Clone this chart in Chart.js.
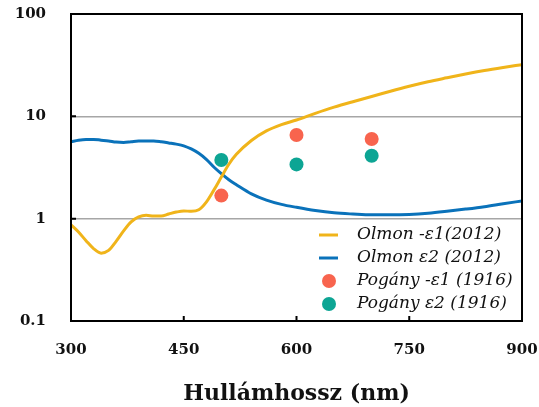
<!DOCTYPE html>
<html>
<head>
<meta charset="utf-8">
<script src="https://cdn.jsdelivr.net/npm/chart.js@4/dist/chart.umd.min.js"></script>
<style>
  html, body { margin: 0; padding: 0; background: #ffffff; }
  #wrap { width: 539px; height: 407px; }
</style>
</head>
<body>
<div id="wrap"><canvas id="c" width="539" height="407"></canvas></div>
<script>
// Wavelength grid (nm) shared by the two Olmon curves
const wavelengthNm = [300, 310, 320, 330, 340, 350, 360, 370, 380, 390, 400, 410, 420, 430, 440, 450,
  460, 470, 480, 490, 500, 510, 520, 540, 560, 580, 600, 625, 650, 675, 700, 725, 750, 775, 800,
  825, 850, 875, 900];

// Olmon (2012): -eps1
const olmonNegEps1 = [0.87, 0.74, 0.61, 0.51, 0.46, 0.49, 0.60, 0.76, 0.93, 1.04, 1.08, 1.06, 1.06,
  1.11, 1.16, 1.19, 1.18, 1.22, 1.45, 1.9, 2.55, 3.4, 4.25, 5.8, 7.2, 8.3, 9.2, 10.7, 12.3, 13.9,
  15.6, 17.6, 19.7, 21.8, 23.8, 25.9, 28.0, 30.0, 32.0];

// Olmon (2012): eps2
const olmonEps2 = [5.65, 5.85, 5.95, 5.95, 5.85, 5.75, 5.6, 5.55, 5.65, 5.75, 5.75, 5.75, 5.65, 5.5,
  5.35, 5.15, 4.8, 4.35, 3.8, 3.2, 2.75, 2.4, 2.15, 1.75, 1.52, 1.38, 1.29, 1.2, 1.14, 1.11, 1.09,
  1.09, 1.1, 1.13, 1.18, 1.24, 1.31, 1.4, 1.49];

// Pogány (1916) measurements
const poganyWavelengthNm = [500, 600, 700];
const poganyNegEps1 = [1.68, 6.56, 6.0];
const poganyEps2 = [3.74, 3.39, 4.12];

// Axis ticks
const xTickValues = [300, 450, 600, 750, 900];
const yTickValues = [0.1, 1, 10, 100];
const yGridValues = [1, 10];

const seriesLabels = ['Olmon -ε1(2012)', 'Olmon ε2 (2012)', 'Pogány -ε1 (1916)', 'Pogány ε2 (1916)'];
const seriesColors = ['#F0B41A', '#0A72BA', '#F8644E', '#0DA594'];

const serif = "'DejaVu Serif', 'Liberation Serif', serif";

const toPoints = (xs, ys) => xs.map((x, i) => ({ x: x, y: ys[i] }));

// Frame, inward tick marks and in-plot legend
const framePlugin = {
  id: 'frameAndLegend',
  afterDraw(chart) {
    const { ctx, chartArea: a, scales } = chart;
    ctx.save();
    ctx.strokeStyle = '#000000';
    ctx.lineWidth = 2;
    ctx.strokeRect(a.left, a.top, a.right - a.left, a.bottom - a.top);
    ctx.beginPath();
    yGridValues.forEach(v => {
      const y = scales.y.getPixelForValue(v);
      ctx.moveTo(a.left, y);
      ctx.lineTo(a.left + 5, y);
    });
    xTickValues.slice(1, -1).forEach(v => {
      const x = scales.x.getPixelForValue(v);
      ctx.moveTo(x, a.bottom);
      ctx.lineTo(x, a.bottom - 5);
    });
    ctx.stroke();

    // legend
    const lx = a.left + 248, tx = a.left + 286;
    let ly = a.top + 221;
    const rowH = 23;
    ctx.font = 'italic 17px ' + serif;
    ctx.textBaseline = 'middle';
    ctx.textAlign = 'left';
    chart.data.datasets.forEach((ds) => {
      ctx.fillStyle = ds.borderColor;
      if (ds.showLine === false) {
        ctx.beginPath();
        ctx.arc(lx + 10, ly, 7, 0, Math.PI * 2);
        ctx.fill();
      } else {
        ctx.strokeStyle = ds.borderColor;
        ctx.lineWidth = 3;
        ctx.beginPath();
        ctx.moveTo(lx, ly);
        ctx.lineTo(lx + 19, ly);
        ctx.stroke();
      }
      ctx.fillStyle = '#111111';
      ctx.fillText(ds.label, tx, ly);
      ly += rowH;
    });
    ctx.restore();
  }
};

new Chart(document.getElementById('c'), {
  type: 'line',
  data: {
    datasets: [
      {
        label: seriesLabels[0],
        data: toPoints(wavelengthNm, olmonNegEps1),
        borderColor: seriesColors[0],
        backgroundColor: seriesColors[0],
        borderWidth: 3,
        pointRadius: 0,
        cubicInterpolationMode: 'monotone',
        order: 2
      },
      {
        label: seriesLabels[1],
        data: toPoints(wavelengthNm, olmonEps2),
        borderColor: seriesColors[1],
        backgroundColor: seriesColors[1],
        borderWidth: 3,
        pointRadius: 0,
        cubicInterpolationMode: 'monotone',
        order: 3
      },
      {
        label: seriesLabels[2],
        data: toPoints(poganyWavelengthNm, poganyNegEps1),
        borderColor: seriesColors[2],
        backgroundColor: seriesColors[2],
        showLine: false,
        pointRadius: 7,
        pointBorderWidth: 0,
        order: 0
      },
      {
        label: seriesLabels[3],
        data: toPoints(poganyWavelengthNm, poganyEps2),
        borderColor: seriesColors[3],
        backgroundColor: seriesColors[3],
        showLine: false,
        pointRadius: 7,
        pointBorderWidth: 0,
        order: 1
      }
    ]
  },
  options: {
    responsive: false,
    animation: false,
    devicePixelRatio: 1,
    layout: { padding: 0 },
    plugins: {
      legend: { display: false },
      tooltip: { enabled: false }
    },
    scales: {
      x: {
        type: 'linear',
        min: 300,
        max: 900,
        afterBuildTicks(scale) { scale.ticks = xTickValues.map(v => ({ value: v })); },
        afterFit(scale) { scale.height = 86; scale.paddingRight = 17; scale.paddingLeft = 0; },
        grid: { display: false, drawTicks: false },
        border: { display: false },
        ticks: {
          padding: 20,
          color: '#111111',
          font: { family: serif, weight: 'bold', size: 15 },
          maxRotation: 0
        },
        title: {
          display: true,
          text: 'Hullámhossz (nm)',
          color: '#111111',
          font: { family: serif, weight: 'bold', size: 22 },
          padding: { top: 11, bottom: 0 }
        }
      },
      y: {
        type: 'logarithmic',
        min: 0.1,
        max: 100,
        afterBuildTicks(scale) { scale.ticks = yTickValues.map(v => ({ value: v })); },
        afterFit(scale) { scale.width = 71; scale.paddingTop = 14; scale.paddingBottom = 0; },
        grid: {
          drawTicks: false,
          lineWidth: 1.5,
          color: ctx => (ctx.tick && yGridValues.includes(ctx.tick.value)) ? '#A6A6A6' : 'rgba(0,0,0,0)'
        },
        border: { display: false },
        ticks: {
          padding: 25,
          crossAlign: 'near',
          color: '#111111',
          font: { family: serif, weight: 'bold', size: 15 },
          callback: v => String(v)
        }
      }
    }
  },
  plugins: [framePlugin]
});
</script>
</body>
</html>
